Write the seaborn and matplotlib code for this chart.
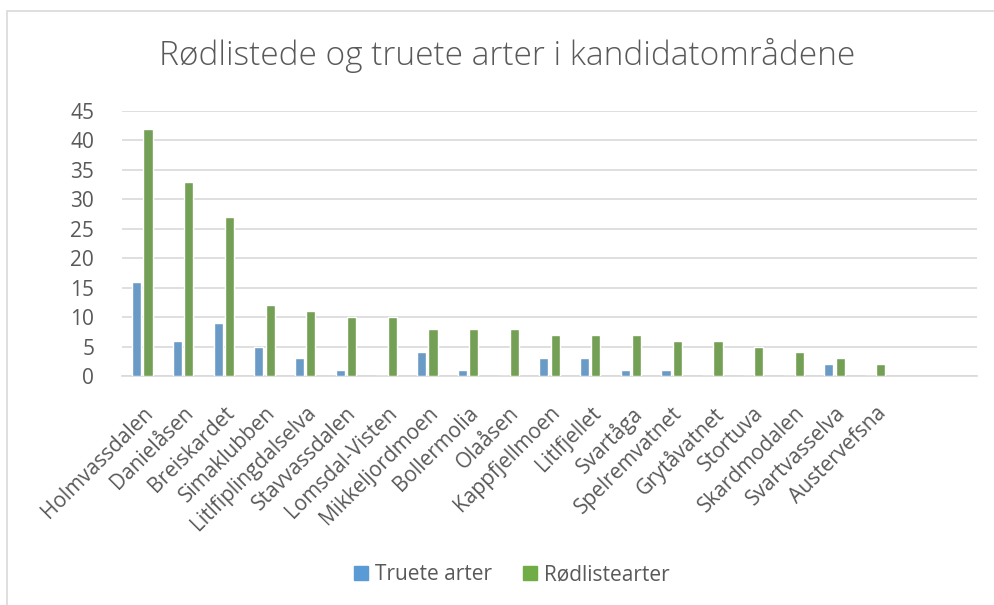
import pandas as pd
import matplotlib.pyplot as plt
import seaborn as sns
from matplotlib.patches import Rectangle

# data
omrader = ["Holmvassdalen", "Danielåsen", "Breiskardet", "Simaklubben",
           "Litlfiplingdalselva", "Stavvassdalen", "Lomsdal-Visten", "Mikkeljordmoen",
           "Bollermolia", "Olaåsen", "Kappfjellmoen", "Litlfjellet", "Svartåga",
           "Spelremvatnet", "Grytåvatnet", "Stortuva", "Skardmodalen",
           "Svartvasselva", "Austervefsna"]
truete = [16, 6, 9, 5, 3, 1, 0, 4, 1, 0, 3, 3, 1, 1, 0, 0, 0, 2, 0]
rodliste = [42, 33, 27, 12, 11, 10, 10, 8, 8, 8, 7, 7, 7, 6, 6, 5, 4, 3, 2]
serier = ["Truete arter", "Rødlistearter"]
farger = ["#5B9BD5", "#70AD47"]

df = pd.DataFrame({
    "omrade": omrader * 2,
    "serie": [serier[0]] * len(omrader) + [serier[1]] * len(omrader),
    "antall": truete + rodliste,
})

sns.set_style("white")
plt.rcParams['font.family'] = ['Open Sans', 'DejaVu Sans']
grey = "#595959"

fig = plt.figure(figsize=(9.94, 6.05), dpi=100)
W, H = 994, 605
ax = fig.add_axes([122 / W, 1 - 376 / H, (977 - 122) / W, (376 - 111) / H])

sns.barplot(data=df, x="omrade", y="antall", hue="serie", palette=farger,
            width=0.56, gap=0.2, ax=ax, legend=False, zorder=3)

ax.set_xlim(-0.5, 20.5)
ax.set_ylim(0, 45)
ax.set_yticks(range(0, 46, 5))
ax.grid(axis="y", color="#D9D9D9", linewidth=1.2, zorder=0)
for s in ["top", "right", "left"]:
    ax.spines[s].set_visible(False)
ax.spines["bottom"].set_color("#D9D9D9")
ax.spines["bottom"].set_linewidth(1.2)
ax.set_xlabel("")
ax.set_ylabel("")
ax.tick_params(axis="both", length=0, labelsize=15, labelcolor=grey)
ax.set_xticks(range(len(omrader)))
ax.set_xticklabels(omrader, rotation=45, ha="right", rotation_mode="anchor")
ax.tick_params(axis="x", pad=19)
ax.tick_params(axis="y", pad=20)

fig.text(507 / W, 1 - 55 / H, "Rødlistede og truete arter i kandidatområdene",
         ha="center", va="center", fontsize=24, color=grey, fontweight="light")

# legend
handles = [Rectangle((0, 0), 1, 1, color=c) for c in farger]
fig.legend(handles, serier, loc="center", bbox_to_anchor=(0.515, 1 - 575 / H),
           ncol=2, frameon=False, fontsize=15, labelcolor=grey,
           handlelength=0.65, handleheight=0.65, handletextpad=0.35, columnspacing=1.5)

# chart border (cropped at right and bottom)
fig.patches.append(Rectangle((7 / W, -0.1), 1.2, 1 - 11 / H + 0.1, transform=fig.transFigure,
                             fill=False, edgecolor="#D9D9D9", linewidth=1.2))

fig.savefig("out.png", dpi=100)
